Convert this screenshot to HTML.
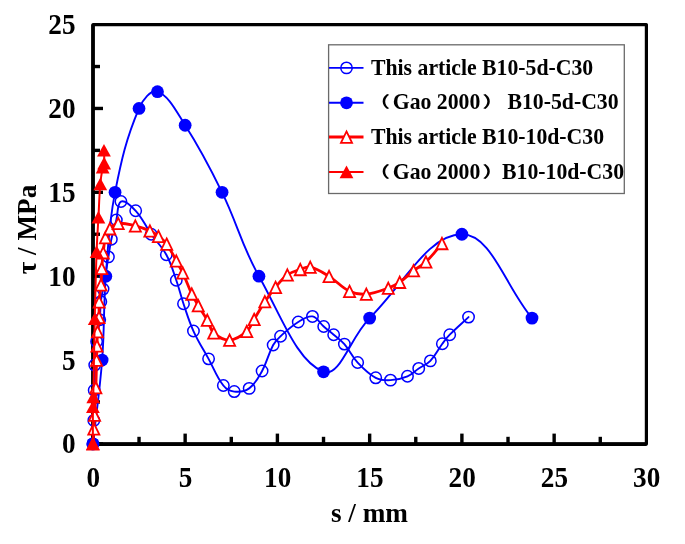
<!DOCTYPE html>
<html><head><meta charset="utf-8"><title>Bond stress-slip curves</title>
<style>
html,body{margin:0;padding:0;background:#fff;}
body{width:685px;height:544px;overflow:hidden;}
svg{display:block;will-change:transform;filter:blur(0.35px);}
text{font-family:"Liberation Serif","Noto Serif CJK SC",serif;font-weight:bold;fill:#000;}
.tk{font-size:28.7px;}
.lg{font-size:22.8px;white-space:pre;}
.pr{font-family:"Noto Sans CJK SC","Noto Serif CJK SC",sans-serif;font-size:15.5px;}
</style></head><body>
<svg width="685" height="544" viewBox="0 0 685 544">
<rect width="685" height="544" fill="#fff"/>
<g stroke="#000" stroke-width="3.4">
<line x1="93.00" y1="443.90" x2="103.00" y2="443.90"/>
<line x1="93.00" y1="401.97" x2="100.00" y2="401.97"/>
<line x1="93.00" y1="360.04" x2="103.00" y2="360.04"/>
<line x1="93.00" y1="318.11" x2="100.00" y2="318.11"/>
<line x1="93.00" y1="276.18" x2="103.00" y2="276.18"/>
<line x1="93.00" y1="234.25" x2="100.00" y2="234.25"/>
<line x1="93.00" y1="192.32" x2="103.00" y2="192.32"/>
<line x1="93.00" y1="150.39" x2="100.00" y2="150.39"/>
<line x1="93.00" y1="108.46" x2="103.00" y2="108.46"/>
<line x1="93.00" y1="66.53" x2="100.00" y2="66.53"/>
<line x1="92.90" y1="444.10" x2="92.90" y2="433.60"/>
<line x1="139.03" y1="444.10" x2="139.03" y2="436.80"/>
<line x1="185.15" y1="444.10" x2="185.15" y2="433.60"/>
<line x1="231.28" y1="444.10" x2="231.28" y2="436.80"/>
<line x1="277.40" y1="444.10" x2="277.40" y2="433.60"/>
<line x1="323.52" y1="444.10" x2="323.52" y2="436.80"/>
<line x1="369.65" y1="444.10" x2="369.65" y2="433.60"/>
<line x1="415.77" y1="444.10" x2="415.77" y2="436.80"/>
<line x1="461.90" y1="444.10" x2="461.90" y2="433.60"/>
<line x1="508.02" y1="444.10" x2="508.02" y2="436.80"/>
<line x1="554.15" y1="444.10" x2="554.15" y2="433.60"/>
<line x1="600.27" y1="444.10" x2="600.27" y2="436.80"/>
</g>
<rect x="93.00" y="24.60" width="553.40" height="419.50" fill="none" stroke="#000" stroke-width="3.2" stroke-linejoin="round"/>
<polyline points="93.00,24.60 93.00,444.10 646.40,444.10" fill="none" stroke="#000" stroke-width="3.6" stroke-linejoin="miter"/>
<path d="M92.90 443.90 C93.26 434.74 93.60 429.58 93.82 420.42 C94.11 408.65 94.00 402.00 94.19 390.23 C94.36 380.42 94.26 374.87 94.75 365.07 C95.20 355.90 95.59 350.72 96.59 341.59 C97.53 333.06 98.82 328.32 99.73 319.79 C100.47 312.76 100.07 308.70 100.83 301.67 C101.37 296.73 102.22 294.01 103.05 289.09 C105.17 276.54 106.30 269.45 108.40 256.89 C109.54 250.02 109.89 246.08 111.35 239.28 C112.98 231.69 114.42 227.52 116.33 219.99 C118.16 212.81 117.00 203.42 120.94 201.54 C124.55 199.83 131.19 205.89 135.70 210.77 C142.99 218.65 144.93 225.25 151.20 234.25 C156.87 242.39 161.62 246.08 166.33 254.71 C171.40 264.00 172.77 270.14 176.29 280.21 C179.46 289.24 180.43 294.61 183.49 303.69 C187.12 314.43 188.77 320.72 193.45 331.02 C198.55 342.24 202.64 348.03 208.58 358.87 C214.30 369.29 216.24 376.48 223.34 385.53 C226.24 389.23 229.70 391.07 234.23 391.57 C239.78 392.18 244.68 391.71 249.17 388.38 C255.55 383.66 258.02 378.30 262.09 370.94 C267.38 361.36 268.03 354.59 273.16 344.95 C275.23 341.05 277.26 339.22 280.54 336.22 C287.05 330.26 290.80 326.59 298.25 321.97 C303.25 318.87 307.47 315.55 312.46 316.43 C317.40 317.31 319.25 322.65 323.71 326.50 C327.52 329.78 329.84 331.45 333.67 334.71 C337.90 338.32 340.77 339.93 344.37 344.11 C350.13 350.78 351.66 356.11 357.66 362.56 C363.90 369.26 367.89 373.61 375.74 377.82 C380.70 380.48 384.78 380.44 390.50 380.17 C397.16 379.85 401.32 378.87 407.47 376.31 C412.33 374.29 414.28 371.42 418.73 368.43 C423.21 365.40 426.68 364.71 430.35 360.88 C435.89 355.10 437.50 350.32 442.34 343.77 C445.05 340.11 446.54 337.96 449.72 334.71 C456.75 327.56 461.20 323.97 468.54 317.10" fill="none" stroke="#0000ff" stroke-width="1.90" stroke-linejoin="round" stroke-linecap="round"/>
<circle cx="92.90" cy="443.90" r="5.70" fill="none" stroke="#0000ff" stroke-width="1.50"/>
<circle cx="93.82" cy="420.42" r="5.70" fill="none" stroke="#0000ff" stroke-width="1.50"/>
<circle cx="94.19" cy="390.23" r="5.70" fill="none" stroke="#0000ff" stroke-width="1.50"/>
<circle cx="94.75" cy="365.07" r="5.70" fill="none" stroke="#0000ff" stroke-width="1.50"/>
<circle cx="96.59" cy="341.59" r="5.70" fill="none" stroke="#0000ff" stroke-width="1.50"/>
<circle cx="99.73" cy="319.79" r="5.70" fill="none" stroke="#0000ff" stroke-width="1.50"/>
<circle cx="100.83" cy="301.67" r="5.70" fill="none" stroke="#0000ff" stroke-width="1.50"/>
<circle cx="103.05" cy="289.09" r="5.70" fill="none" stroke="#0000ff" stroke-width="1.50"/>
<circle cx="108.40" cy="256.89" r="5.70" fill="none" stroke="#0000ff" stroke-width="1.50"/>
<circle cx="111.35" cy="239.28" r="5.70" fill="none" stroke="#0000ff" stroke-width="1.50"/>
<circle cx="116.33" cy="219.99" r="5.70" fill="none" stroke="#0000ff" stroke-width="1.50"/>
<circle cx="120.94" cy="201.54" r="5.70" fill="none" stroke="#0000ff" stroke-width="1.50"/>
<circle cx="135.70" cy="210.77" r="5.70" fill="none" stroke="#0000ff" stroke-width="1.50"/>
<circle cx="151.20" cy="234.25" r="5.70" fill="none" stroke="#0000ff" stroke-width="1.50"/>
<circle cx="166.33" cy="254.71" r="5.70" fill="none" stroke="#0000ff" stroke-width="1.50"/>
<circle cx="176.29" cy="280.21" r="5.70" fill="none" stroke="#0000ff" stroke-width="1.50"/>
<circle cx="183.49" cy="303.69" r="5.70" fill="none" stroke="#0000ff" stroke-width="1.50"/>
<circle cx="193.45" cy="331.02" r="5.70" fill="none" stroke="#0000ff" stroke-width="1.50"/>
<circle cx="208.58" cy="358.87" r="5.70" fill="none" stroke="#0000ff" stroke-width="1.50"/>
<circle cx="223.34" cy="385.53" r="5.70" fill="none" stroke="#0000ff" stroke-width="1.50"/>
<circle cx="234.23" cy="391.57" r="5.70" fill="none" stroke="#0000ff" stroke-width="1.50"/>
<circle cx="249.17" cy="388.38" r="5.70" fill="none" stroke="#0000ff" stroke-width="1.50"/>
<circle cx="262.09" cy="370.94" r="5.70" fill="none" stroke="#0000ff" stroke-width="1.50"/>
<circle cx="273.16" cy="344.95" r="5.70" fill="none" stroke="#0000ff" stroke-width="1.50"/>
<circle cx="280.54" cy="336.22" r="5.70" fill="none" stroke="#0000ff" stroke-width="1.50"/>
<circle cx="298.25" cy="321.97" r="5.70" fill="none" stroke="#0000ff" stroke-width="1.50"/>
<circle cx="312.46" cy="316.43" r="5.70" fill="none" stroke="#0000ff" stroke-width="1.50"/>
<circle cx="323.71" cy="326.50" r="5.70" fill="none" stroke="#0000ff" stroke-width="1.50"/>
<circle cx="333.67" cy="334.71" r="5.70" fill="none" stroke="#0000ff" stroke-width="1.50"/>
<circle cx="344.37" cy="344.11" r="5.70" fill="none" stroke="#0000ff" stroke-width="1.50"/>
<circle cx="357.66" cy="362.56" r="5.70" fill="none" stroke="#0000ff" stroke-width="1.50"/>
<circle cx="375.74" cy="377.82" r="5.70" fill="none" stroke="#0000ff" stroke-width="1.50"/>
<circle cx="390.50" cy="380.17" r="5.70" fill="none" stroke="#0000ff" stroke-width="1.50"/>
<circle cx="407.47" cy="376.31" r="5.70" fill="none" stroke="#0000ff" stroke-width="1.50"/>
<circle cx="418.73" cy="368.43" r="5.70" fill="none" stroke="#0000ff" stroke-width="1.50"/>
<circle cx="430.35" cy="360.88" r="5.70" fill="none" stroke="#0000ff" stroke-width="1.50"/>
<circle cx="442.34" cy="343.77" r="5.70" fill="none" stroke="#0000ff" stroke-width="1.50"/>
<circle cx="449.72" cy="334.71" r="5.70" fill="none" stroke="#0000ff" stroke-width="1.50"/>
<circle cx="468.54" cy="317.10" r="5.70" fill="none" stroke="#0000ff" stroke-width="1.50"/>
<path d="M92.90 443.90 C96.50 411.19 99.60 392.83 102.12 360.04 C104.64 327.42 103.30 308.80 105.81 276.18 C108.34 243.39 108.67 224.48 115.04 192.32 C121.62 159.07 126.15 138.98 139.03 108.46 C142.70 99.73 150.92 89.30 157.48 91.69 C168.91 95.85 176.03 111.02 185.15 125.23 C201.21 150.26 208.95 165.52 222.05 192.32 C237.73 224.39 241.43 245.20 258.95 276.18 C281.01 315.19 296.77 361.64 323.52 371.78 C339.94 378.00 350.11 337.53 369.65 318.11 C404.08 283.89 428.16 234.25 461.90 234.25 C491.48 234.25 504.67 285.40 532.01 318.11" fill="none" stroke="#0000ff" stroke-width="1.90" stroke-linejoin="round" stroke-linecap="round"/>
<circle cx="92.90" cy="443.90" r="6.40" fill="#0000ff"/>
<circle cx="102.12" cy="360.04" r="6.40" fill="#0000ff"/>
<circle cx="105.81" cy="276.18" r="6.40" fill="#0000ff"/>
<circle cx="115.04" cy="192.32" r="6.40" fill="#0000ff"/>
<circle cx="139.03" cy="108.46" r="6.40" fill="#0000ff"/>
<circle cx="157.48" cy="91.69" r="6.40" fill="#0000ff"/>
<circle cx="185.15" cy="125.23" r="6.40" fill="#0000ff"/>
<circle cx="222.05" cy="192.32" r="6.40" fill="#0000ff"/>
<circle cx="258.95" cy="276.18" r="6.40" fill="#0000ff"/>
<circle cx="323.52" cy="371.78" r="6.40" fill="#0000ff"/>
<circle cx="369.65" cy="318.11" r="6.40" fill="#0000ff"/>
<circle cx="461.90" cy="234.25" r="6.40" fill="#0000ff"/>
<circle cx="532.01" cy="318.11" r="6.40" fill="#0000ff"/>
<path d="M92.90 443.90 C93.26 438.01 93.48 434.69 93.82 428.81 C94.13 423.44 94.30 420.42 94.56 415.05 C95.09 404.33 95.46 398.28 95.85 387.55 C96.25 376.82 96.31 370.77 96.59 360.04 C96.74 354.48 96.78 351.34 96.96 345.78 C97.14 340.22 97.12 337.07 97.51 331.53 C97.91 325.95 98.68 322.85 98.99 317.27 C99.32 311.27 98.80 307.84 99.17 301.84 C99.59 295.22 100.51 291.52 101.02 284.90 C101.52 278.44 101.31 274.76 101.76 268.30 C102.17 262.20 102.50 258.76 103.23 252.70 C103.94 246.79 103.88 243.27 105.45 237.60 C106.47 233.92 107.39 231.50 109.87 228.72 C112.35 225.94 114.57 223.75 118.18 223.35 C124.50 222.64 128.78 224.31 135.34 225.86 C141.16 227.25 144.46 228.44 149.91 230.90 C153.46 232.50 155.32 233.87 158.40 236.26 C161.87 238.97 164.13 240.44 166.70 243.98 C171.11 250.06 172.60 254.28 176.29 260.92 C178.86 265.53 180.51 268.05 182.75 272.83 C186.55 280.93 187.96 285.87 191.79 293.96 C194.00 298.62 195.62 301.09 198.25 305.53 C201.66 311.29 203.99 314.30 207.29 320.12 C210.04 324.97 209.83 329.36 213.75 332.87 C218.53 337.15 223.49 340.36 229.61 340.08 C236.37 339.77 241.26 336.03 246.77 331.36 C250.83 327.92 251.28 324.00 254.15 319.28 C258.33 312.42 260.39 308.35 264.85 301.67 C268.74 295.86 271.06 292.61 275.56 287.25 C279.84 282.14 282.05 278.66 287.36 274.84 C291.70 271.72 295.13 271.21 300.28 269.47 C304.05 268.20 306.56 266.24 310.24 267.12 C317.78 268.92 322.12 272.08 329.06 276.35 C337.45 281.50 340.85 287.13 349.54 291.27 C355.38 294.06 359.86 294.66 366.33 294.13 C374.97 293.42 379.96 291.06 388.28 288.09 C392.98 286.41 395.62 285.05 399.72 282.22 C405.48 278.25 408.00 274.95 413.56 270.65 C418.22 267.04 421.69 265.97 425.92 261.92 C432.77 255.38 435.71 250.67 441.97 243.47" fill="none" stroke="#ff0000" stroke-width="2.80" stroke-linejoin="round" stroke-linecap="round"/>
<polygon points="92.90,438.35 98.45,449.70 87.35,449.70" fill="#fff" stroke="#ff0000" stroke-width="1.80"/>
<polygon points="93.82,423.26 99.37,434.61 88.27,434.61" fill="#fff" stroke="#ff0000" stroke-width="1.80"/>
<polygon points="94.56,409.50 100.11,420.85 89.01,420.85" fill="#fff" stroke="#ff0000" stroke-width="1.80"/>
<polygon points="95.85,382.00 101.40,393.35 90.30,393.35" fill="#fff" stroke="#ff0000" stroke-width="1.80"/>
<polygon points="96.59,354.49 102.14,365.84 91.04,365.84" fill="#fff" stroke="#ff0000" stroke-width="1.80"/>
<polygon points="96.96,340.23 102.51,351.58 91.41,351.58" fill="#fff" stroke="#ff0000" stroke-width="1.80"/>
<polygon points="97.51,325.98 103.06,337.33 91.96,337.33" fill="#fff" stroke="#ff0000" stroke-width="1.80"/>
<polygon points="98.99,311.72 104.54,323.07 93.44,323.07" fill="#fff" stroke="#ff0000" stroke-width="1.80"/>
<polygon points="99.17,296.29 104.72,307.64 93.62,307.64" fill="#fff" stroke="#ff0000" stroke-width="1.80"/>
<polygon points="101.02,279.35 106.57,290.70 95.47,290.70" fill="#fff" stroke="#ff0000" stroke-width="1.80"/>
<polygon points="101.76,262.75 107.31,274.10 96.21,274.10" fill="#fff" stroke="#ff0000" stroke-width="1.80"/>
<polygon points="103.23,247.15 108.78,258.50 97.68,258.50" fill="#fff" stroke="#ff0000" stroke-width="1.80"/>
<polygon points="105.45,232.05 111.00,243.40 99.90,243.40" fill="#fff" stroke="#ff0000" stroke-width="1.80"/>
<polygon points="109.87,223.17 115.42,234.52 104.32,234.52" fill="#fff" stroke="#ff0000" stroke-width="1.80"/>
<polygon points="118.18,217.80 123.73,229.15 112.63,229.15" fill="#fff" stroke="#ff0000" stroke-width="1.80"/>
<polygon points="135.34,220.31 140.89,231.66 129.78,231.66" fill="#fff" stroke="#ff0000" stroke-width="1.80"/>
<polygon points="149.91,225.35 155.46,236.70 144.36,236.70" fill="#fff" stroke="#ff0000" stroke-width="1.80"/>
<polygon points="158.40,230.71 163.95,242.06 152.85,242.06" fill="#fff" stroke="#ff0000" stroke-width="1.80"/>
<polygon points="166.70,238.43 172.25,249.78 161.15,249.78" fill="#fff" stroke="#ff0000" stroke-width="1.80"/>
<polygon points="176.29,255.37 181.84,266.72 170.74,266.72" fill="#fff" stroke="#ff0000" stroke-width="1.80"/>
<polygon points="182.75,267.28 188.30,278.63 177.20,278.63" fill="#fff" stroke="#ff0000" stroke-width="1.80"/>
<polygon points="191.79,288.41 197.34,299.76 186.24,299.76" fill="#fff" stroke="#ff0000" stroke-width="1.80"/>
<polygon points="198.25,299.98 203.80,311.33 192.70,311.33" fill="#fff" stroke="#ff0000" stroke-width="1.80"/>
<polygon points="207.29,314.57 212.84,325.92 201.74,325.92" fill="#fff" stroke="#ff0000" stroke-width="1.80"/>
<polygon points="213.75,327.32 219.30,338.67 208.20,338.67" fill="#fff" stroke="#ff0000" stroke-width="1.80"/>
<polygon points="229.61,334.53 235.16,345.88 224.06,345.88" fill="#fff" stroke="#ff0000" stroke-width="1.80"/>
<polygon points="246.77,325.81 252.32,337.16 241.22,337.16" fill="#fff" stroke="#ff0000" stroke-width="1.80"/>
<polygon points="254.15,313.73 259.70,325.08 248.60,325.08" fill="#fff" stroke="#ff0000" stroke-width="1.80"/>
<polygon points="264.85,296.12 270.40,307.47 259.30,307.47" fill="#fff" stroke="#ff0000" stroke-width="1.80"/>
<polygon points="275.56,281.70 281.11,293.05 270.00,293.05" fill="#fff" stroke="#ff0000" stroke-width="1.80"/>
<polygon points="287.36,269.29 292.91,280.64 281.81,280.64" fill="#fff" stroke="#ff0000" stroke-width="1.80"/>
<polygon points="300.28,263.92 305.83,275.27 294.73,275.27" fill="#fff" stroke="#ff0000" stroke-width="1.80"/>
<polygon points="310.24,261.57 315.79,272.92 304.69,272.92" fill="#fff" stroke="#ff0000" stroke-width="1.80"/>
<polygon points="329.06,270.80 334.61,282.15 323.51,282.15" fill="#fff" stroke="#ff0000" stroke-width="1.80"/>
<polygon points="349.54,285.72 355.09,297.07 343.99,297.07" fill="#fff" stroke="#ff0000" stroke-width="1.80"/>
<polygon points="366.33,288.58 371.88,299.93 360.78,299.93" fill="#fff" stroke="#ff0000" stroke-width="1.80"/>
<polygon points="388.28,282.54 393.83,293.89 382.73,293.89" fill="#fff" stroke="#ff0000" stroke-width="1.80"/>
<polygon points="399.72,276.67 405.27,288.02 394.17,288.02" fill="#fff" stroke="#ff0000" stroke-width="1.80"/>
<polygon points="413.56,265.10 419.11,276.45 408.01,276.45" fill="#fff" stroke="#ff0000" stroke-width="1.80"/>
<polygon points="425.92,256.37 431.47,267.72 420.37,267.72" fill="#fff" stroke="#ff0000" stroke-width="1.80"/>
<polygon points="441.97,237.92 447.52,249.27 436.42,249.27" fill="#fff" stroke="#ff0000" stroke-width="1.80"/>
<path d="M92.90 443.90 C92.90 429.51 92.79 421.39 92.90 407.00 C92.93 403.14 93.19 400.97 93.27 397.11 C93.91 366.63 94.05 349.43 94.75 318.95 C95.34 292.78 95.64 278.02 96.59 251.86 C97.08 238.44 97.70 230.89 98.44 217.48 C99.14 204.53 99.19 197.18 100.28 184.27 C100.84 177.63 101.47 173.87 102.68 167.33 C102.98 165.69 104.03 164.95 104.15 163.30 C104.53 158.34 104.04 155.43 103.97 150.39" fill="none" stroke="#ff0000" stroke-width="2.00" stroke-linejoin="round" stroke-linecap="round"/>
<polygon points="92.90,437.40 99.80,450.00 86.00,450.00" fill="#ff0000"/>
<polygon points="92.90,400.50 99.80,413.10 86.00,413.10" fill="#ff0000"/>
<polygon points="93.27,390.61 100.17,403.21 86.37,403.21" fill="#ff0000"/>
<polygon points="94.75,312.45 101.65,325.05 87.84,325.05" fill="#ff0000"/>
<polygon points="96.59,245.36 103.49,257.96 89.69,257.96" fill="#ff0000"/>
<polygon points="98.44,210.98 105.34,223.58 91.53,223.58" fill="#ff0000"/>
<polygon points="100.28,177.77 107.18,190.37 93.38,190.37" fill="#ff0000"/>
<polygon points="102.68,160.83 109.58,173.43 95.78,173.43" fill="#ff0000"/>
<polygon points="104.15,156.80 111.05,169.40 97.25,169.40" fill="#ff0000"/>
<polygon points="103.97,143.89 110.87,156.49 97.07,156.49" fill="#ff0000"/>
<rect x="328.6" y="44.8" width="295.7" height="148.7" fill="#fff" stroke="#6a6a6a" stroke-width="1.3"/>
<line x1="329" y1="67.90" x2="363.5" y2="67.90" stroke="#0000ff" stroke-width="1.90"/>
<circle cx="346.50" cy="67.90" r="5.70" fill="none" stroke="#0000ff" stroke-width="1.50"/>
<text class="lg" transform="translate(371,74.60) scale(0.9539,1)">This article B10-5d-C30</text>
<line x1="329" y1="102.80" x2="363.5" y2="102.80" stroke="#0000ff" stroke-width="1.90"/>
<circle cx="346.50" cy="102.80" r="6.40" fill="#0000ff"/>
<text class="lg" transform="translate(371,109.40) scale(0.9539,1)"><tspan class="pr" dx="-3.35" dy="-2.3" textLength="23.59" lengthAdjust="spacingAndGlyphs">（</tspan><tspan dx="2.57" dy="2.3">Gao 2000</tspan><tspan class="pr" dx="2.10" dy="-2.3" textLength="23.59" lengthAdjust="spacingAndGlyphs">）</tspan><tspan dx="-2.88" dy="2.3"> B10-5d-C30</tspan></text>
<line x1="329" y1="137.00" x2="363.5" y2="137.00" stroke="#ff0000" stroke-width="2.80"/>
<polygon points="346.50,131.45 352.05,142.80 340.95,142.80" fill="#fff" stroke="#ff0000" stroke-width="1.80"/>
<text class="lg" transform="translate(371,144.30) scale(0.9539,1)">This article B10-10d-C30</text>
<line x1="329" y1="172.10" x2="363.5" y2="172.10" stroke="#ff0000" stroke-width="2.00"/>
<polygon points="346.50,165.60 353.40,178.20 339.60,178.20" fill="#ff0000"/>
<text class="lg" transform="translate(371,179.30) scale(0.9539,1)"><tspan class="pr" dx="-3.35" dy="-2.3" textLength="23.59" lengthAdjust="spacingAndGlyphs">（</tspan><tspan dx="2.57" dy="2.3">Gao 2000</tspan><tspan class="pr" dx="2.10" dy="-2.3" textLength="23.59" lengthAdjust="spacingAndGlyphs">）</tspan><tspan dx="-2.88" dy="2.3">B10-10d-C30</tspan></text>
<text class="tk" text-anchor="end" transform="translate(75.5,453.40) scale(0.9477,1)">0</text>
<text class="tk" text-anchor="end" transform="translate(75.5,369.54) scale(0.9477,1)">5</text>
<text class="tk" text-anchor="end" transform="translate(75.5,285.68) scale(0.9477,1)">10</text>
<text class="tk" text-anchor="end" transform="translate(75.5,201.82) scale(0.9477,1)">15</text>
<text class="tk" text-anchor="end" transform="translate(75.5,117.96) scale(0.9477,1)">20</text>
<text class="tk" text-anchor="end" transform="translate(75.5,34.10) scale(0.9477,1)">25</text>
<text class="tk" text-anchor="middle" transform="translate(93.20,487) scale(0.9477,1)">0</text>
<text class="tk" text-anchor="middle" transform="translate(185.45,487) scale(0.9477,1)">5</text>
<text class="tk" text-anchor="middle" transform="translate(277.70,487) scale(0.9477,1)">10</text>
<text class="tk" text-anchor="middle" transform="translate(369.95,487) scale(0.9477,1)">15</text>
<text class="tk" text-anchor="middle" transform="translate(462.20,487) scale(0.9477,1)">20</text>
<text class="tk" text-anchor="middle" transform="translate(554.45,487) scale(0.9477,1)">25</text>
<text class="tk" text-anchor="middle" transform="translate(646.70,487) scale(0.9477,1)">30</text>
<text class="tk" style="font-size:28px" text-anchor="middle" transform="translate(369.5,521.5) scale(0.9714,1)">s / mm</text>
<text class="tk" style="font-size:28px" text-anchor="middle" transform="translate(36.2,229.5) rotate(-90) scale(0.9714,1)">τ / MPa</text>
</svg>
</body></html>
